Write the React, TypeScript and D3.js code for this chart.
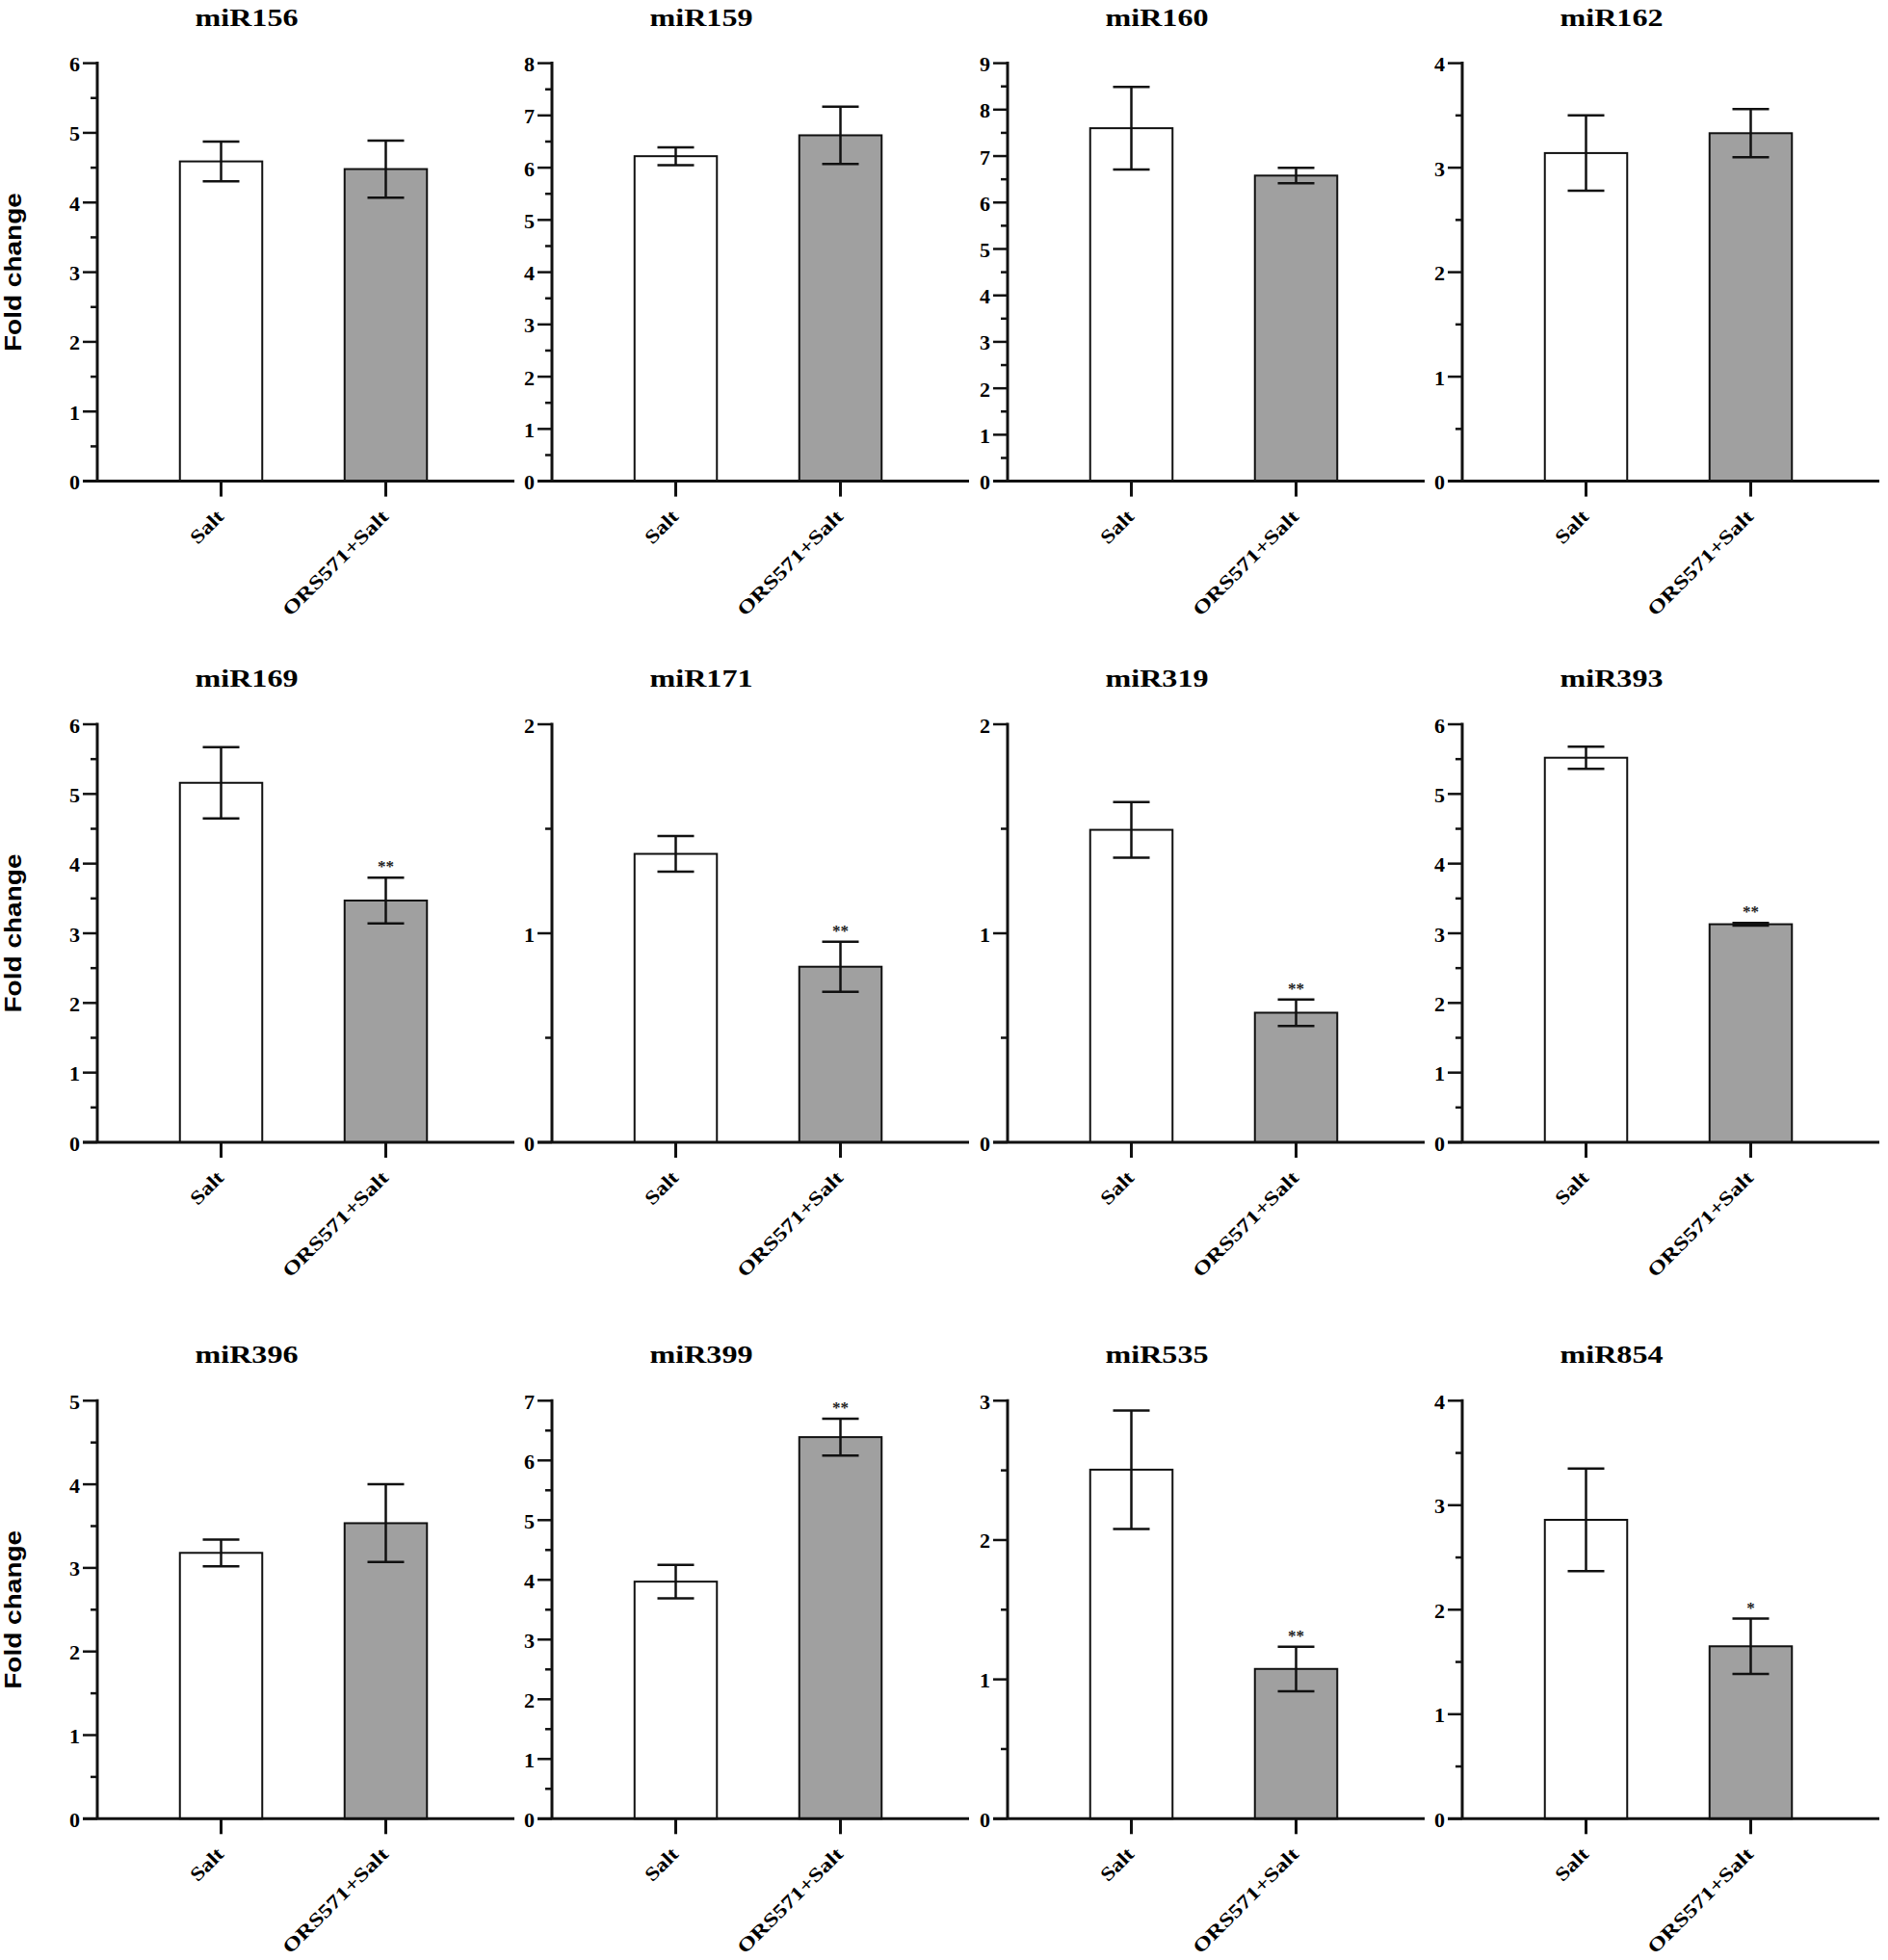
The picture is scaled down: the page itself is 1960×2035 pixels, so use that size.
import React from 'react';
import * as d3 from 'd3';

const titles = ['miR156', 'miR159', 'miR160', 'miR162', 'miR169', 'miR171', 'miR319', 'miR393', 'miR396', 'miR399', 'miR535', 'miR854'];
const categories = ['Salt', 'ORS571+Salt'];
const yMax = [6, 8, 9, 4, 6, 2, 2, 6, 5, 7, 3, 4];
const saltMean = [4.59, 6.22, 7.6, 3.14, 5.16, 1.38, 1.495, 5.52, 3.18, 3.97, 2.505, 2.86];
const saltErr = [0.285, 0.17, 0.89, 0.36, 0.51, 0.085, 0.133, 0.16, 0.16, 0.28, 0.425, 0.49];
const orsMean = [4.48, 6.62, 6.58, 3.33, 3.47, 0.84, 0.62, 3.13, 3.535, 6.39, 1.075, 1.65];
const orsErr = [0.41, 0.55, 0.165, 0.23, 0.33, 0.12, 0.063, 0.02, 0.465, 0.31, 0.16, 0.265];
const sigMarks = ['', '', '', '', '**', '**', '**', '**', '', '**', '**', '*'];
const yLabel = 'Fold change';

const colAxisX = [101, 573, 1046, 1518];
const rowZeroY = [499.6, 1186, 1888.3];
const plotH = 434;
const axisLen = 433;

const serif = '"Liberation Serif", "Times New Roman", serif';
const sans = '"Liberation Sans", Arial, sans-serif';

function Panel({ i }: { i: number }) {
  const col = i % 4;
  const row = Math.floor(i / 4);
  const ax = colAxisX[col];
  const zy = rowZeroY[row];
  const y = d3.scaleLinear().domain([0, yMax[i]]).range([zy, zy - plotH]);
  const x = d3.scaleBand<string>().domain(categories).range([ax + 43, ax + 385]).paddingInner(0.5).paddingOuter(0.25);
  const majors = d3.range(0, yMax[i] + 1);
  const minors = d3.range(0.5, yMax[i], 1);
  const means = [saltMean[i], orsMean[i]];
  const errs = [saltErr[i], orsErr[i]];
  const fills = ['#ffffff', '#a0a0a0'];
  const bw = x.bandwidth();
  const xLens = [40, 146];
  return (
    <g>
      <text x={ax + 155} y={zy - 473} textAnchor="middle" fontFamily={serif} fontWeight="bold" fontSize={26} textLength={107} lengthAdjust="spacingAndGlyphs">{titles[i]}</text>
      {col === 0 && (
        <text transform={`translate(21.5,${zy - plotH / 2}) rotate(-90)`} textAnchor="middle" fontFamily={sans} fontWeight="bold" fontSize={24} textLength={165} lengthAdjust="spacingAndGlyphs">{yLabel}</text>
      )}
      {categories.map((c, k) => {
        const x0 = x(c) as number;
        const cx = x0 + bw / 2;
        const top = y(means[k] + errs[k]);
        const bot = y(means[k] - errs[k]);
        return (
          <g key={c}>
            <rect x={x0} y={y(means[k])} width={bw} height={zy - y(means[k])} fill={fills[k]} stroke="#111" strokeWidth={2} />
            <line x1={cx} x2={cx} y1={top} y2={bot} stroke="#111" strokeWidth={2.5} />
            <line x1={cx - 19} x2={cx + 19} y1={top} y2={top} stroke="#111" strokeWidth={2.5} />
            <line x1={cx - 19} x2={cx + 19} y1={bot} y2={bot} stroke="#111" strokeWidth={2.5} />
            {k === 1 && sigMarks[i] && (
              <text x={cx} y={top - 6} textAnchor="middle" fontFamily={serif} fontWeight="bold" fontSize={17} fill="#222">{sigMarks[i]}</text>
            )}
            <line x1={cx} x2={cx} y1={zy} y2={zy + 16} stroke="#111" strokeWidth={3} />
            <text transform={`translate(${cx + 4},${zy + 38}) rotate(-45)`} textAnchor="end" fontFamily={serif} fontWeight="bold" fontSize={20} textLength={xLens[k]} lengthAdjust="spacingAndGlyphs">{c}</text>
          </g>
        );
      })}
      <line x1={ax} x2={ax} y1={zy - plotH - 1.5} y2={zy} stroke="#111" strokeWidth={3} />
      <line x1={ax - 15} x2={ax + axisLen} y1={zy} y2={zy} stroke="#111" strokeWidth={3} />
      {majors.map((v) => (
        <g key={'M' + v}>
          <line x1={ax - 15} x2={ax} y1={y(v)} y2={y(v)} stroke="#111" strokeWidth={2.5} />
          <text x={ax - 18} y={y(v) + 1} textAnchor="end" dominantBaseline="central" fontFamily={serif} fontWeight="bold" fontSize={22}>{v}</text>
        </g>
      ))}
      {minors.map((v) => (
        <line key={'m' + v} x1={ax - 7} x2={ax} y1={y(v)} y2={y(v)} stroke="#111" strokeWidth={2.5} />
      ))}
    </g>
  );
}

export default function App() {
  return (
    <svg width={1960} height={2035} style={{ position: 'absolute', left: 0, top: 0, background: '#fff' }}>
      <rect x={0} y={0} width={1960} height={2035} fill="#fff" />
      {titles.map((t, i) => (
        <Panel key={t} i={i} />
      ))}
    </svg>
  );
}
